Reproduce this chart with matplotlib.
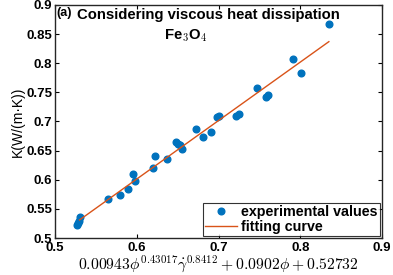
import numpy as np
import matplotlib
matplotlib.use('Agg')
import matplotlib.pyplot as plt

plt.rcParams['mathtext.fontset'] = 'cm'

# valores experimentales (x = modelo, y = K medido)
x_exp = [0.5273, 0.5285, 0.5294, 0.5306, 0.565, 0.5795, 0.5897, 0.595, 0.598,
         0.6195, 0.6223, 0.6374, 0.648, 0.650, 0.653, 0.6557, 0.673, 0.6806,
         0.6908, 0.6985, 0.7009, 0.722, 0.7247, 0.7475, 0.758, 0.761,
         0.7916, 0.8005, 0.835]
y_exp = [0.5223, 0.5263, 0.530, 0.5355, 0.5664, 0.5744, 0.5836, 0.610, 0.597,
         0.621, 0.6408, 0.635, 0.665, 0.661, 0.659, 0.653, 0.687, 0.674,
         0.6825, 0.7082, 0.7094, 0.710, 0.7124, 0.757, 0.7426, 0.7455,
         0.807, 0.784, 0.867]
# curva de ajuste
x_fit = [0.53, 0.835]
y_fit = [0.531, 0.837]

fig = plt.figure(figsize=(3.93, 2.75), dpi=100)
ax = fig.add_axes([0.14, 0.1345, 0.832, 0.8475])

ax.plot(x_exp, y_exp, 'o', color='#0072BD', ms=4.8, mec='#0072BD', label='experimental values')
ax.plot(x_fit, y_fit, '-', color='#D95319', lw=1.0, label='fitting curve')

ax.set_xlim(0.5, 0.9)
ax.set_ylim(0.5, 0.9)
ax.set_xticks([0.5, 0.6, 0.7, 0.8, 0.9])
ax.set_xticklabels(['0.5', '0.6', '0.7', '0.8', '0.9'])
ax.set_yticks([0.5, 0.55, 0.6, 0.65, 0.7, 0.75, 0.8, 0.85, 0.9])
ax.set_yticklabels(['0.5', '0.55', '0.6', '0.65', '0.7', '0.75', '0.8', '0.85', '0.9'])
ax.tick_params(direction='in', top=True, right=True, length=3, width=0.8)
ax.tick_params(axis='x', pad=3)
ax.tick_params(axis='y', pad=2)
for lab in ax.get_xticklabels() + ax.get_yticklabels():
    lab.set_fontfamily('Liberation Sans')
    lab.set_fontweight('bold')
    lab.set_fontsize(9.5)
for s in ax.spines.values():
    s.set_linewidth(1.0)
    s.set_color('#262626')

ax.set_xlabel(r'$0.00943\phi^{0.43017}\dot{\gamma}^{0.8412}+0.0902\phi+0.52732$',
              fontsize=11.3)
ax.xaxis.set_label_coords(0.5, -0.153)
ax.xaxis.label.set_va('bottom')
ax.set_ylabel('K(W/(m·K))', fontfamily='Liberation Sans', fontsize=10, labelpad=1)

ax.text(0.502, 0.887, '(a)', fontfamily='Liberation Sans', fontweight='bold',
        fontsize=9, va='center', ha='left')
ax.text(0.527, 0.883, 'Considering viscous heat dissipation', fontfamily='Liberation Sans',
        fontweight='bold', fontsize=10.7, va='center', ha='left')
ax.text(0.633, 0.847, r'Fe$_3$O$_4$', fontfamily='Liberation Sans', fontweight='bold',
        fontsize=10.7, va='center', ha='left')

leg = ax.legend(loc='lower right', prop={'family': 'Liberation Sans', 'weight': 'bold', 'size': 10.3},
                frameon=True, fancybox=False, edgecolor='black', borderpad=0.15,
                labelspacing=0.05, handlelength=2.2, handletextpad=0.3, borderaxespad=0.15)
leg.get_frame().set_linewidth(0.8)

plt.savefig('out.png', dpi=100)
